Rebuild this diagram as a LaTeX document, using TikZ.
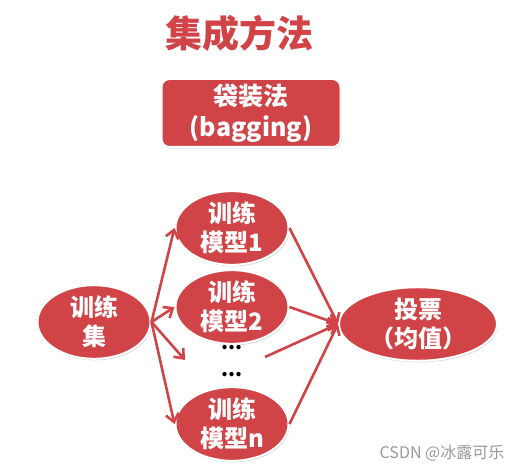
\documentclass[tikz,border=0pt]{standalone}
\usepackage{fontspec}
\setmainfont{Noto Sans CJK SC}
\usetikzlibrary{shapes.geometric, arrows.meta, shadows}
\definecolor{bagred}{RGB}{208,68,72}

\begin{document}
\begin{tikzpicture}[x=1pt, y=-1pt,
	model/.style={ellipse, fill=bagred, draw=white, line width=2pt,
		drop shadow={opacity=0.35, shadow xshift=1pt, shadow yshift=-1.5pt},
		minimum width=113pt, minimum height=66pt, inner sep=0pt,
		text=white, align=center, font=\fontsize{24}{29}\selectfont\bfseries},
	link/.style={draw=bagred, line width=2.6pt, -{Straight Barb[length=8pt, width=13pt]}}]
	\useasboundingbox (0,0) rectangle (530,470);
	\node [text=bagred, font=\fontsize{37}{37}\selectfont\bfseries] (title) at (239,33) {集成方法};
	\node [model, rectangle, rounded corners=8pt, minimum width=179pt, minimum height=68pt,
		font=\fontsize{25}{31}\selectfont\bfseries] (bag) at (251,113) {袋装法\\(bagging)};
	\node [model] (set) at (94,322) {训练\\集};
	\node [model] (m1) at (232,228) {训练\\模型1};
	\node [model] (m2) at (232,307) {训练\\模型2};
	\node [model] (mn) at (232,424) {训练\\模型n};
	\node [model, minimum width=158pt, minimum height=68pt] (vote) at (418,324) {投票\\（均值）};
	\node [font=\fontsize{20}{20}\selectfont\bfseries] (dotsa) at (232,348) {...};
	\node [font=\fontsize{20}{20}\selectfont\bfseries] (dotsb) at (232,375) {...};
	\coordinate (todots) at (185,360);
	\coordinate (fromdots) at (265,357);
%	arrows in and out
	\draw [link] (set.east) -- (m1.west);
	\draw [link] (set.east) -- (m2.west);
	\draw [link] (set.east) -- (todots);
	\draw [link] (set.east) -- (mn.west);
	\draw [link] (m1.east) -- (vote.west);
	\draw [link] (m2.east) -- (vote.west);
	\draw [link] (fromdots) -- (vote.west);
	\draw [link] (mn.east) -- (vote.west);
	\node [text=black!40, font=\fontsize{16}{16}\selectfont] (mark) at (442,453) {CSDN @冰露可乐};
\end{tikzpicture}
\end{document}
